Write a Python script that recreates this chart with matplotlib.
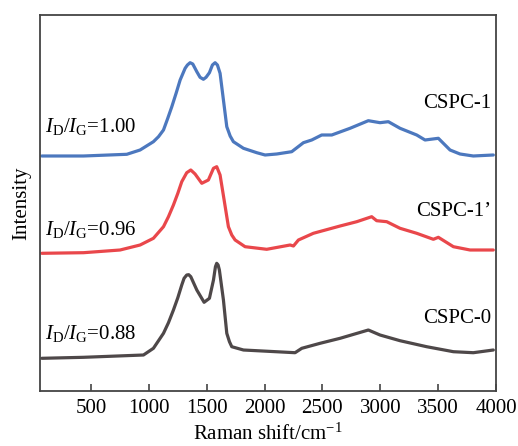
import matplotlib
matplotlib.use("Agg")
import matplotlib.pyplot as plt

plt.rcParams["font.family"] = ["Liberation Serif", "DejaVu Serif"]
plt.rcParams["mathtext.fontset"] = "custom"
plt.rcParams["mathtext.rm"] = "Liberation Serif"
plt.rcParams["mathtext.it"] = "Liberation Serif:italic"

# Raman spectra (offset-stacked intensities, a.u.)
shift_cspc1 = [76, 436, 810, 925, 1040, 1084, 1127, 1164, 1199, 1236, 1271, 1314,
               1334, 1357, 1380, 1415, 1443, 1472, 1495, 1524, 1550, 1573, 1593,
               1616, 1645, 1674, 1703, 1731, 1818, 1933, 2005, 2106, 2235, 2336,
               2408, 2494, 2581, 2739, 2897, 2998, 3070, 3171, 3315, 3387, 3502,
               3603, 3689, 3804, 3977]
int_cspc1 = [235.0, 235.0, 236.7, 241.0, 249.3, 254.3, 261.0, 272.7, 284.3, 297.7,
             311.0, 322.7, 326.0, 328.3, 327.0, 319.3, 313.7, 311.7, 313.7, 318.3,
             326.0, 328.3, 326.0, 317.7, 291.0, 264.3, 255.0, 249.3, 242.7, 238.3,
             236.0, 237.0, 239.3, 248.3, 251.0, 256.0, 256.0, 262.7, 270.3, 268.3,
             269.3, 262.7, 256.0, 251.0, 252.7, 241.0, 237.0, 235.0, 236.0]

shift_cspc1p = [76, 436, 752, 925, 1040, 1127, 1170, 1213, 1251, 1285, 1328, 1363,
                1400, 1458, 1515, 1559, 1587, 1616, 1651, 1688, 1717, 1746, 1832,
                2019, 2221, 2250, 2293, 2422, 2653, 2797, 2926, 2969, 3056, 3171,
                3315, 3459, 3502, 3632, 3776, 3977]
int_cspc1p = [137.7, 138.3, 141.0, 146.0, 152.7, 164.3, 174.3, 186.0, 197.7, 209.3,
              218.3, 221.0, 217.0, 207.7, 211.0, 222.7, 224.3, 216.0, 191.0, 164.3,
              156.0, 151.0, 144.3, 141.7, 146.0, 145.0, 151.0, 157.7, 165.0, 169.3,
              174.3, 170.3, 169.3, 162.7, 157.7, 151.7, 153.7, 144.3, 141.0, 141.0]

shift_cspc0 = [76, 436, 954, 1040, 1127, 1170, 1213, 1251, 1285, 1305, 1328, 1345,
               1363, 1415, 1478, 1524, 1559, 1576, 1587, 1599, 1610, 1645, 1674,
               1697, 1717, 1818, 2264, 2322, 2480, 2653, 2897, 2998, 3171, 3401,
               3632, 3804, 3977]
int_cspc0 = [32.7, 33.7, 36.0, 42.7, 57.7, 68.3, 81.0, 93.3, 106.0, 112.7, 116.0,
             116.3, 114.3, 101.0, 88.7, 92.7, 111.0, 124.3, 127.7, 126.0, 121.0,
             91.0, 57.7, 49.3, 44.3, 41.0, 38.3, 42.7, 47.7, 52.7, 61.0, 56.0, 50.3,
             44.3, 39.3, 38.3, 41.0]

series_names = ["CSPC-1", "CSPC-1\u2019", "CSPC-0"]
ratio_labels = ["1.00", "0.96", "0.88"]
x_ticks = [500, 1000, 1500, 2000, 2500, 3000, 3500, 4000]

colors = ["#3d6cb9", "#e8373b", "#3f3839"]

fig = plt.figure(figsize=(5.18, 4.46), dpi=100)
ax = fig.add_axes([0.0772, 0.1233, 0.8803, 0.8431])

for xs, ys, c in zip([shift_cspc1, shift_cspc1p, shift_cspc0],
                     [int_cspc1, int_cspc1p, int_cspc0], colors):
    ax.plot(xs, ys, color=c, lw=2.3, solid_joinstyle="round",
            solid_capstyle="round", alpha=0.92)

ax.set_xlim(60, 4000)
ax.set_ylim(0, 376)
ax.set_xticks(x_ticks)
ax.set_xticklabels([str(t) for t in x_ticks])
ax.set_yticks([])
ax.tick_params(axis="x", direction="in", length=5, width=1.2, color="#444444",
               labelsize=15, pad=6)
for s in ax.spines.values():
    s.set_color("#444444")
    s.set_linewidth(1.3)

ax.set_xlabel("Raman shift/cm$^{-1}$", fontsize=15, labelpad=4)
ax.set_ylabel("Intensity", fontsize=15, labelpad=6)

label_y = [287, 179, 73]
ratio_y = [264, 161, 58]
for name, r, ly, ry in zip(series_names, ratio_labels, label_y, ratio_y):
    ax.text(3955, ly, name, ha="right", va="center", fontsize=15)
    ax.text(100, ry, r"$I_{\mathrm{D}}/I_{\mathrm{G}}$=" + r, ha="left",
            va="center", fontsize=15)

fig.savefig("out.png", dpi=100)
